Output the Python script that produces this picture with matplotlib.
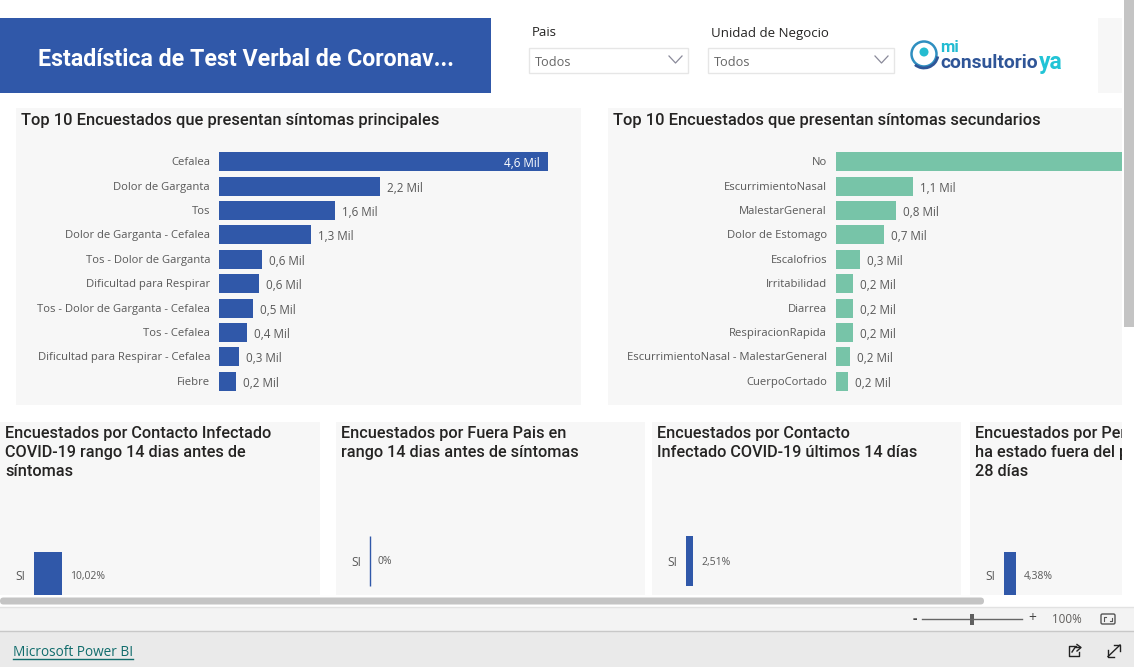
import matplotlib
matplotlib.use("Agg")
import matplotlib.pyplot as plt
from matplotlib.patches import Rectangle, Circle, Arc, FancyBboxPatch

W, H = 1134, 667
BLUE = "#3058a9"
GREEN = "#77c4a8"
PANEL = "#f7f7f7"
TXT = "#595959"
DARK = "#252423"

# ---------- data ----------
title = "Estadística de Test Verbal de Coronav..."
prim_title = "Top 10 Encuestados que presentan síntomas principales"
prim_cats = ["Cefalea", "Dolor de Garganta", "Tos", "Dolor de Garganta - Cefalea",
             "Tos - Dolor de Garganta", "Dificultad para Respirar",
             "Tos - Dolor de Garganta - Cefalea", "Tos - Cefalea",
             "Dificultad para Respirar - Cefalea", "Fiebre"]
prim_vals = [4.6, 2.25, 1.62, 1.29, 0.6, 0.56, 0.48, 0.39, 0.28, 0.24]
prim_lbls = ["4,6 Mil", "2,2 Mil", "1,6 Mil", "1,3 Mil", "0,6 Mil", "0,6 Mil",
             "0,5 Mil", "0,4 Mil", "0,3 Mil", "0,2 Mil"]

sec_title = "Top 10 Encuestados que presentan síntomas secundarios"
sec_cats = ["No", "EscurrimientoNasal", "MalestarGeneral", "Dolor de Estomago",
            "Escalofrios", "Irritabilidad", "Diarrea", "RespiracionRapida",
            "EscurrimientoNasal - MalestarGeneral", "CuerpoCortado"]
sec_vals = [6.0, 1.08, 0.84, 0.68, 0.34, 0.24, 0.24, 0.24, 0.2, 0.17]
sec_lbls = ["", "1,1 Mil", "0,8 Mil", "0,7 Mil", "0,3 Mil", "0,2 Mil", "0,2 Mil",
            "0,2 Mil", "0,2 Mil", "0,2 Mil"]

small_titles = ["Encuestados por Contacto Infectado\nCOVID-19 rango 14 dias antes de\nsíntomas",
                "Encuestados por Fuera Pais en\nrango 14 dias antes de síntomas",
                "Encuestados por Contacto\nInfectado COVID-19 últimos 14 días",
                "Encuestados por Persona que\nha estado fuera del país en últimos\n28 días"]
small_vals = [10.02, 0.0, 2.51, 4.38]
small_lbls = ["10,02%", "0%", "2,51%", "4,38%"]

plt.rcParams["font.family"] = ["Open Sans", "DejaVu Sans"]
fig = plt.figure(figsize=(W / 100, H / 100), dpi=100, facecolor="white")


def pxaxes(x0, y0, x1, y1, z=2):
    a = fig.add_axes([x0 / W, 1 - y1 / H, (x1 - x0) / W, (y1 - y0) / H], zorder=z)
    a.patch.set_alpha(0)
    a.axis("off")
    return a


bg = pxaxes(0, 0, W, H, 0)
bg.set_xlim(0, W)
bg.set_ylim(H, 0)
top = pxaxes(0, 0, W, H, 5)
top.set_xlim(0, W)
top.set_ylim(H, 0)


def rect(a, x0, y0, x1, y1, c, **k):
    a.add_patch(Rectangle((x0, y0), x1 - x0, y1 - y0, fc=c, ec="none", **k))


# ---------- panels ----------
rect(bg, 0, 18, 491, 93, BLUE)
bg.text(246, 59.5, title, color="white", fontsize=16.7, fontweight="bold",
        family="Roboto", ha="center", va="center")
rect(bg, 1098, 18, 1122, 93, PANEL)
rect(bg, 16, 108, 581, 405, PANEL)
rect(bg, 608, 108, 1122, 405, PANEL)
panels = [(0, 320), (336, 645), (652, 961), (970, 1122)]
for x0, x1 in panels:
    rect(bg, x0, 422, x1, 595, PANEL)

bg.text(21, 120, prim_title, color=DARK, fontsize=11.85, family="Roboto",
        fontweight="medium", va="center")
bg.text(613, 120, sec_title, color=DARK, fontsize=11.85, family="Roboto",
        fontweight="medium", va="center")

# ---------- slicers ----------
for x0, x1, lab in [(528, 688, "Pais"), (707, 894, "Unidad de Negocio")]:
    bg.text(x0 + 4, 33, lab, color=DARK, fontsize=9.5, va="center")
    bg.add_patch(Rectangle((x0 + .5, 47.5), x1 - x0 - 1, 25, fc="white", ec="#e6e6e6", lw=1))
    bg.text(x0 + 7, 62, "Todos", color="#666666", fontsize=9.2, va="center")
    bg.plot([x1 - 19, x1 - 12.5, x1 - 6], [56, 63, 56], color="#8a8a9a", lw=0.9)

# ---------- logo ----------
bg.add_patch(Circle((924, 54), 12.5, fc="none", ec="#2f8fc0", lw=1.8))
bg.add_patch(Arc((924, 54), 28, 28, theta1=10, theta2=130, color="#2f5597", lw=2))
bg.add_patch(Circle((924, 52), 4.5, fc="#25bcd0", ec="none"))
bg.text(940, 47.5, "mi", color="#22bcd2", fontsize=12, fontweight="bold",
        family="Roboto", va="center")
bg.text(940, 62.5, "consultorio", color="#2f5597", fontsize=13.9, fontweight="bold",
        family="Roboto", va="center")
bg.text(1039, 62, "ya", color="#22c4d6", fontsize=16.5, fontweight="bold",
        family="Roboto", va="center")


# ---------- main bars ----------
def hbars(rect_px, xmax, cats, vals, lbls, color, inside_first=False):
    a = pxaxes(*rect_px, 2)
    pos = list(range(len(cats)))
    a.barh(pos, vals, height=0.78, color=color, clip_on=True)
    a.set_xlim(0, xmax)
    a.set_ylim(len(cats) - 0.5, -0.5)
    for i, (c, v, l) in enumerate(zip(cats, vals, lbls)):
        a.annotate(c, (0, i), xytext=(-9, -1), textcoords="offset pixels", ha="right",
                   va="center", fontsize=8.1, color=TXT, annotation_clip=False)
        if not l:
            continue
        if inside_first and i == 0:
            a.annotate(l, (v, i), xytext=(-8, -2), textcoords="offset pixels", ha="right",
                       va="center", fontsize=8.4, color="white", annotation_clip=False)
        else:
            a.annotate(l, (v, i), xytext=(7, -2), textcoords="offset pixels", ha="left",
                       va="center", fontsize=8.4, color=TXT, annotation_clip=False)
    return a


hbars((219, 149.5, 548, 393.5), 4.6, prim_cats, prim_vals, prim_lbls, BLUE, True)
hbars((836, 149.5, 1122, 393.5), 286 / 71.0, sec_cats, sec_vals, sec_lbls, GREEN)

# ---------- small panels ----------
tx = [5, 341, 657, 975]
title_clip = Rectangle((0, 0), 1122, H, transform=bg.transData)
for x, t in zip(tx, small_titles):
    for i, ln in enumerate(t.split("\n")):
        s = bg.text(x, 433.6 + i * 19, ln, color=DARK, fontsize=11.7, family="Roboto",
                    fontweight="medium", va="center")
        s.set_clip_path(title_clip)
        s.set_clip_on(True)

geom = [(34, 552, 600), (370, 536, 586), (686, 536, 586), (1004, 552, 600)]
for (x0, y0, y1), v, l, (px0, px1) in zip(geom, small_vals, small_lbls, panels):
    a = fig.add_axes([x0 / W, 1 - y1 / H, 200 / W, (y1 - y0) / H], zorder=2)
    a.axis("off")
    a.patch.set_alpha(0)
    clip = Rectangle((0, 422), W, 173, transform=bg.transData)
    bars = a.barh([0], [v], height=1.0, color=BLUE, edgecolor=BLUE,
                  linewidth=1.0 if v == 0 else 0, clip_on=True)
    for b in bars:
        b.set_clip_path(clip)
    a.set_xlim(0, 200 / 2.8)
    a.set_ylim(-0.5, 0.5)
    a.annotate("SI", (0, 0), xytext=(-9, -1), textcoords="offset pixels", ha="right",
               va="center", fontsize=8.6, color=TXT, annotation_clip=False)
    a.annotate(l, (v, 0), xytext=(8, -1), textcoords="offset pixels", ha="left",
               va="center", fontsize=7.5, color=TXT, annotation_clip=False)

# ---------- scrollbars & footer ----------
rect(top, 1124, 0, 1134, 327, "#c4c4c4")
top.add_patch(FancyBboxPatch((0, 597.5), 984, 7, boxstyle="round,pad=0,rounding_size=3.5",
                             fc="#c4c4c4", ec="none"))
rect(top, 0, 607, W, 631, "#f3f3f3")
top.plot([0, W], [607, 607], color="#e2e2e2", lw=1)
rect(top, 0, 631, W, H, "#eaeaea")
top.plot([0, W], [630.5, 630.5], color="#c8c8c8", lw=1)
top.text(13, 652, "Microsoft Power BI", color="#106c6c", fontsize=9.8, va="center")
top.plot([13, 133], [658.5, 658.5], color="#106c6c", lw=1)

top.text(915, 619, "-", color="#444444", fontsize=10, fontweight="bold", ha="center", va="center")
top.plot([922, 1022], [619, 619], color="#666666", lw=1)
rect(top, 970, 614, 974, 625, "#5f5f5f")
top.text(1032, 618.5, "+", color="#444444", fontsize=10, ha="center", va="center")
top.text(1067, 619.5, "100%", color="#605e5c", fontsize=8.4, ha="center", va="center")
top.add_patch(FancyBboxPatch((1101, 614), 14, 10, boxstyle="round,pad=0,rounding_size=1.5",
                             fc="none", ec="#555555", lw=1))
top.plot([1104, 1104, 1106], [620.5, 617, 617], color="#555555", lw=0.8)
top.plot([1112, 1112, 1110], [617.5, 621, 621], color="#555555", lw=0.8)

# share icon
top.plot([1076, 1069, 1069, 1079, 1079], [646, 646, 656, 656, 652], color="#222222", lw=1)
top.plot([1072, 1075, 1080], [652, 647.5, 647.5], color="#222222", lw=1)
top.plot([1077, 1081, 1077], [644.5, 647.5, 651], color="#222222", lw=1)
# expand icon
top.plot([1108, 1120], [656.5, 645], color="#222222", lw=1)
top.plot([1114, 1120, 1120], [645, 645, 651], color="#222222", lw=1)
top.plot([1108, 1108, 1114], [650, 656.5, 656.5], color="#222222", lw=1)

fig.savefig("out.png", dpi=100, facecolor="white")
